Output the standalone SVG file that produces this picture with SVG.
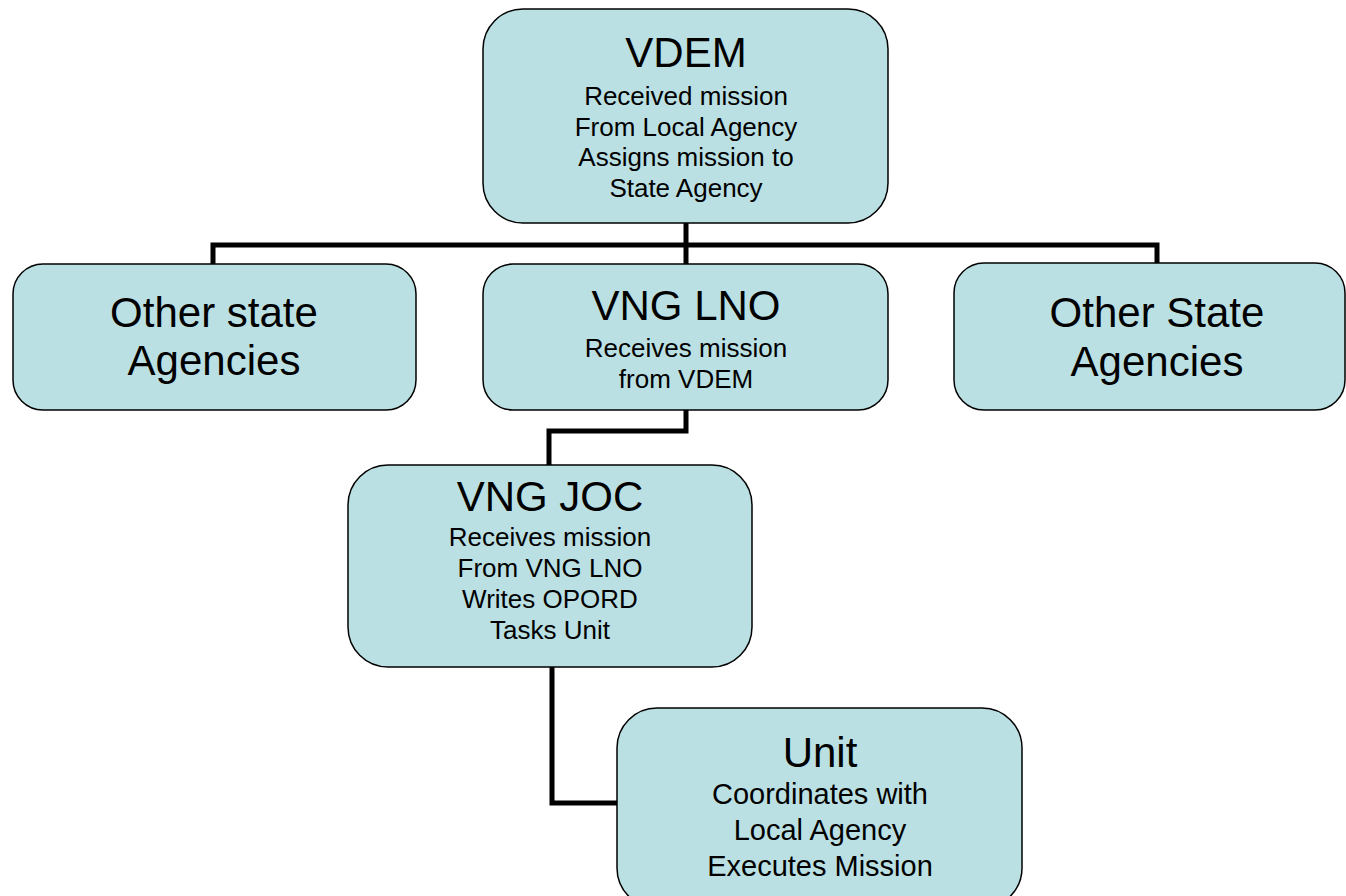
<svg xmlns="http://www.w3.org/2000/svg" width="1346" height="896" viewBox="0 0 1346 896">
<style>
.box{fill:#BBE0E3;stroke:#000;stroke-width:1.5}
.t{font-family:"Liberation Sans",Arial,sans-serif;font-size:42px;fill:#000;text-anchor:middle}
.s{font-family:"Liberation Sans",Arial,sans-serif;font-size:26px;fill:#000;text-anchor:middle}
.s2{font-family:"Liberation Sans",Arial,sans-serif;font-size:29px;fill:#000;text-anchor:middle}
.c{fill:none;stroke:#000;stroke-width:5}
</style>
<rect width="1346" height="896" fill="#fff"/>
<g id="connectors">
<polyline class="c" points="213,265 213,245 1157,245 1157,264"/>
<line class="c" x1="686" y1="223" x2="686" y2="265"/>
<polyline class="c" points="686,410 686,431 549,431 549,465"/>
<polyline class="c" points="552,667 552,803 617,803"/>
</g>
<g id="vdem">
<rect class="box" x="483" y="9" width="405" height="214" rx="40"/>
<text class="t" x="686" y="67">VDEM</text>
<text class="s" x="686" y="105">Received mission</text>
<text class="s" x="686" y="136">From Local Agency</text>
<text class="s" x="686" y="166">Assigns mission to</text>
<text class="s" x="686" y="197">State Agency</text>
</g>
<g id="other-state-left">
<rect class="box" x="13" y="264" width="403" height="146" rx="30"/>
<text class="t" x="214" y="327">Other state</text>
<text class="t" x="214" y="375">Agencies</text>
</g>
<g id="vng-lno">
<rect class="box" x="483" y="264" width="405" height="146" rx="30"/>
<text class="t" x="686" y="320">VNG LNO</text>
<text class="s" x="686" y="357">Receives mission</text>
<text class="s" x="686" y="388">from VDEM</text>
</g>
<g id="other-state-right">
<rect class="box" x="954" y="263" width="391" height="147" rx="30"/>
<text class="t" x="1157" y="327">Other State</text>
<text class="t" x="1157" y="376">Agencies</text>
</g>
<g id="vng-joc">
<rect class="box" x="348" y="465" width="404" height="202" rx="40"/>
<text class="t" x="550" y="511">VNG JOC</text>
<text class="s" x="550" y="546">Receives mission</text>
<text class="s" x="550" y="577">From VNG LNO</text>
<text class="s" x="550" y="608">Writes OPORD</text>
<text class="s" x="550" y="639">Tasks Unit</text>
</g>
<g id="unit">
<rect class="box" x="617" y="708" width="405" height="200" rx="40"/>
<text class="t" x="820" y="767">Unit</text>
<text class="s2" x="820" y="804">Coordinates with</text>
<text class="s2" x="820" y="840">Local Agency</text>
<text class="s2" x="820" y="876">Executes Mission</text>
</g>
</svg>
